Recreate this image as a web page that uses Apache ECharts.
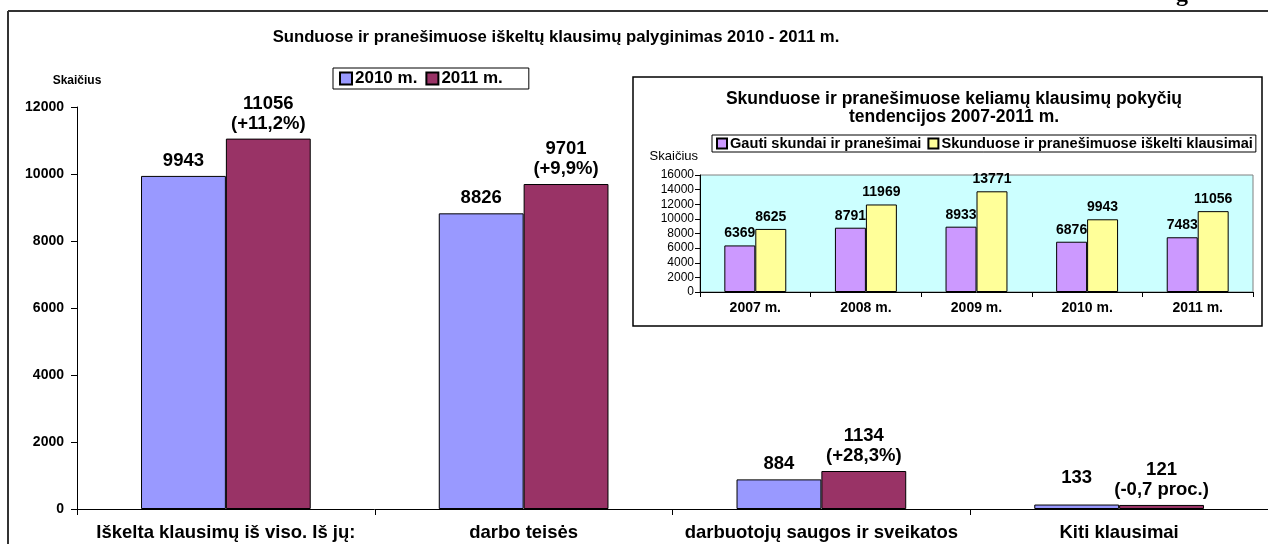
<!DOCTYPE html>
<html><head><meta charset="utf-8">
<script src="https://cdn.jsdelivr.net/npm/echarts@6/dist/echarts.min.js"></script>
<style>html,body{margin:0;padding:0;background:#fff}#c{width:1268px;height:544px}</style>
</head><body><div id="c"></div>
<script>
// ---- data ----
const mainCategories = ['Iškelta klausimų iš viso. Iš jų:', 'darbo teisės', 'darbuotojų saugos ir sveikatos', 'Kiti klausimai'];
const values2010 = [9943, 8826, 884, 133];
const values2011 = [11056, 9701, 1134, 121];
const change2011 = ['+11,2%', '+9,9%', '+28,3%', '-0,7 proc.'];
const mainSeriesNames = ['2010 m.', '2011 m.'];
const insetCategories = ['2007 m.', '2008 m.', '2009 m.', '2010 m.', '2011 m.'];
const complaints = [6369, 8791, 8933, 6876, 7483];
const issues = [8625, 11969, 13771, 9943, 11056];
const insetSeriesNames = ['Gauti skundai ir pranešimai', 'Skunduose ir pranešimuose iškelti klausimai'];

const FONT = '"Liberation Sans", Arial, sans-serif';
const chart = echarts.init(document.getElementById('c'), null, {renderer: 'canvas'});

const data2010 = values2010.map((v, i) => i === 3 ? {value: v, label: {offset: [0, -12]}} : v);
const plain = v => String(v);

const option = {
  backgroundColor: '#fff',
  animation: false,
  textStyle: {fontFamily: FONT, color: '#000'},
  title: [
    {text: 'Sunduose ir pranešimuose iškeltų klausimų palyginimas 2010 - 2011 m.',
     left: 551, top: 24, textAlign: 'center',
     textStyle: {fontFamily: FONT, fontWeight: 'bold', fontSize: 16.7, color: '#000'}},
    {text: 'Skunduose ir pranešimuose keliamų klausimų pokyčių',
     left: 949, top: 85, textAlign: 'center',
     textStyle: {fontFamily: FONT, fontWeight: 'bold', fontSize: 17.5, color: '#000'}},
    {text: 'tendencijos 2007-2011 m.',
     left: 949, top: 103, textAlign: 'center',
     textStyle: {fontFamily: FONT, fontWeight: 'bold', fontSize: 17.5, color: '#000'}}
  ],
  legend: [
    {data: mainSeriesNames, left: 333, top: 68, orient: 'horizontal', width: 400,
     icon: 'rect', itemWidth: 12, itemHeight: 12, itemGap: 8,
     borderColor: '#000', borderWidth: 1, padding: [2, 26, 2, 6],
     textStyle: {fontFamily: FONT, fontWeight: 'bold', fontSize: 17, color: '#000', padding: [0, 0, 0, -2]}},
    {data: insetSeriesNames, left: 712, top: 135, orient: 'horizontal', width: 600,
     icon: 'rect', itemWidth: 10, itemHeight: 10, itemGap: 6,
     borderColor: '#000', borderWidth: 1, padding: [1, 3, 1, 4],
     textStyle: {fontFamily: FONT, fontWeight: 'bold', fontSize: 14.6, color: '#000', padding: [0, 0, 0, -2]}}
  ],
  grid: [
    {left: 77, right: 0, top: 107, bottom: 35, containLabel: false},
    {left: 700, right: 15, top: 175, bottom: 252, containLabel: false, show: true,
     backgroundColor: '#CCFFFF', borderColor: '#808080', borderWidth: 1}
  ],
  xAxis: [
    {type: 'category', gridIndex: 0, data: mainCategories,
     axisLine: {lineStyle: {color: '#000', width: 1}},
     axisTick: {show: true, length: 6, lineStyle: {color: '#000'}},
     axisLabel: {fontFamily: FONT, fontWeight: 'bold', fontSize: 18.5, color: '#000', margin: 14, interval: 0}},
    {type: 'category', gridIndex: 1, data: insetCategories,
     axisLine: {lineStyle: {color: '#000', width: 1}},
     axisTick: {show: true, length: 5, lineStyle: {color: '#000'}},
     axisLabel: {fontFamily: FONT, fontWeight: 'bold', fontSize: 14, color: '#000', margin: 9, interval: 0}}
  ],
  yAxis: [
    {type: 'value', gridIndex: 0, min: 0, max: 12000, interval: 2000,
     name: 'Skaičius', nameLocation: 'end', nameGap: 20,
     nameTextStyle: {fontFamily: FONT, fontWeight: 'bold', fontSize: 12, color: '#000', align: 'center'},
     axisLine: {show: true, lineStyle: {color: '#000', width: 1}},
     axisTick: {show: true, length: 6, lineStyle: {color: '#000'}},
     splitLine: {show: false},
     axisLabel: {fontFamily: FONT, fontWeight: 'bold', fontSize: 14, color: '#000', margin: 13, formatter: plain}},
    {type: 'value', gridIndex: 1, min: 0, max: 16000, interval: 2000,
     name: 'Skaičius', nameLocation: 'end', nameGap: 12,
     nameTextStyle: {fontFamily: FONT, fontSize: 13, color: '#000', align: 'right', padding: [0, 2, 0, 0]},
     axisLine: {show: true, lineStyle: {color: '#000', width: 1}},
     axisTick: {show: true, length: 5, lineStyle: {color: '#000'}},
     splitLine: {show: false},
     axisLabel: {fontFamily: FONT, fontSize: 12, color: '#000', margin: 6, formatter: plain}}
  ],
  series: [
    {name: mainSeriesNames[0], type: 'bar', xAxisIndex: 0, yAxisIndex: 0, data: data2010,
     barWidth: '28.5%', barGap: '0%',
     itemStyle: {color: '#9999FF', borderColor: '#000', borderWidth: 1},
     label: {show: true, position: 'top', distance: 5, fontFamily: FONT, fontWeight: 'bold', fontSize: 18.5, color: '#000', lineHeight: 20}},
    {name: mainSeriesNames[1], type: 'bar', xAxisIndex: 0, yAxisIndex: 0, data: values2011,
     barWidth: '28.5%', barGap: '0%',
     itemStyle: {color: '#993366', borderColor: '#000', borderWidth: 1},
     label: {show: true, position: 'top', distance: 5, fontFamily: FONT, fontWeight: 'bold', fontSize: 18.5, color: '#000', lineHeight: 20,
       formatter: p => p.value + '\n(' + change2011[p.dataIndex] + ')'}},
    {name: insetSeriesNames[0], type: 'bar', xAxisIndex: 1, yAxisIndex: 1, data: complaints,
     barWidth: '28%', barGap: '0%',
     itemStyle: {color: '#CC99FF', borderColor: '#000', borderWidth: 1},
     label: {show: true, position: 'top', distance: 5, fontFamily: FONT, fontWeight: 'bold', fontSize: 14, color: '#000'}},
    {name: insetSeriesNames[1], type: 'bar', xAxisIndex: 1, yAxisIndex: 1, data: issues,
     barWidth: '28%', barGap: '0%',
     itemStyle: {color: '#FFFF99', borderColor: '#000', borderWidth: 1},
     label: {show: true, position: 'top', distance: 5, fontFamily: FONT, fontWeight: 'bold', fontSize: 14, color: '#000'}}
  ],
  graphic: [
    {type: 'line', z: 10, shape: {x1: 8, y1: 11, x2: 1268, y2: 11}, style: {stroke: '#333', lineWidth: 2}},
    {type: 'line', z: 10, shape: {x1: 8, y1: 11, x2: 8, y2: 544}, style: {stroke: '#333', lineWidth: 2}},
    {type: 'text', z: 10, x: 1176, y: 7, style: {text: 'g', font: 'bold 24px "Liberation Serif", serif', fill: '#000', verticalAlign: 'bottom'}},
    {type: 'rect', z: -1, shape: {x: 633, y: 77, width: 629, height: 249}, style: {fill: '#fff', stroke: '#000', lineWidth: 1.5}}
  ]
};
chart.setOption(option);
</script>
</body></html>
